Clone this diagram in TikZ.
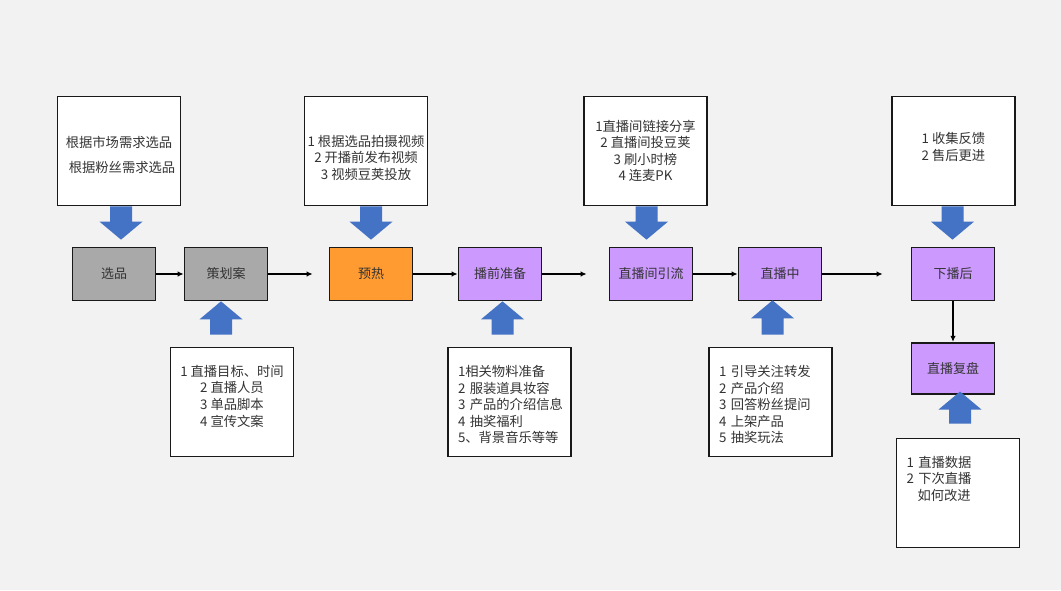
\documentclass[tikz,border=0pt]{standalone}
\usepackage{fontspec}
\setmainfont{Noto Sans CJK SC}
\usetikzlibrary{positioning,arrows.meta,calc}
\definecolor{bgcol}{HTML}{F2F2F2}
\definecolor{boxgray}{HTML}{A9A9A9}
\definecolor{boxorange}{HTML}{FF9B30}
\definecolor{boxpurple}{HTML}{CC99FF}
\definecolor{fatblue}{HTML}{4472C4}
\definecolor{txt}{HTML}{333333}
\tikzset{
 stage/.style={draw=black!90,line width=1.7pt,minimum width=83pt,minimum height=53pt,inner sep=0pt,text=txt,
  font=\fontsize{13pt}{16pt}\selectfont},
 info/.style={draw=black!90,fill=white,line width=1.7pt,minimum width=123pt,minimum height=109pt,inner sep=0pt,text=txt,align=center},
 infol/.style={info,align=left,text width=103pt}
}
%struts to move note text down (\dn) or up (\up)
\newcommand\dn[1]{\rule{0pt}{#1}}
\newcommand\up[1]{\rule[-#1]{0pt}{#1}}
%fat block arrow from base #1 to the level of #2
\newcommand\fatarrow[2]{%
 \coordinate (fa) at #1; \coordinate (ft) at #2;
 \coordinate (fb) at (fa |- ft);
 \coordinate (fh) at ($(fb)!18pt!(fa)$);
 \fill[fatblue] ([xshift=-11pt]fa)--([xshift=11pt]fa)--([xshift=11pt]fh)--([xshift=21.5pt]fh)--(fb)
  --([xshift=-21.5pt]fh)--([xshift=-11pt]fh)--cycle;}
\begin{document}
\begin{tikzpicture}[x=1pt,y=-1pt,font=\fontsize{13.3pt}{16.6pt}\selectfont,
 flow/.style={line width=1.2pt,-{Latex[length=6pt,width=5.5pt]}}]
\useasboundingbox (0,0) rectangle (1061,590);
\fill[bgcol] (0,0) rectangle (1061,590);
%stages
\node[stage,fill=boxgray] (xp) at (114,274) {选品};
\node[stage,fill=boxgray,right=27.3pt of xp] (chj) {策划案};
\node[stage,fill=boxorange,right=60.3pt of chj] (yr) {预热};
\node[stage,fill=boxpurple,right=44.3pt of yr] (bq) {播前准备};
\node[stage,fill=boxpurple,right=66.3pt of bq] (yl) {直播间引流};
\node[stage,fill=boxpurple,right=44.3pt of yl] (zb) {直播中};
\node[stage,fill=boxpurple,right=88.3pt of zb] (xb) {下播后};
\node[stage,fill=boxpurple,below=40.5pt of xb,minimum height=51pt] (fp) {直播复盘};
%flow
\draw[flow] (xp)--(chj);
\draw[flow,shorten >=16pt] (chj)--(yr);
\draw[flow] (yr)--(bq);
\draw[flow,shorten >=22pt] (bq)--(yl);
\draw[flow] (yl)--(zb);
\draw[flow,shorten >=28pt] (zb)--(xb);
\draw[flow] (xb)--(fp);
%notes above
\node[info] (t1) at (119,151) {\dn{19pt}根据市场需求选品\\[8.4pt]\hspace*{6pt}根据粉丝需求选品};
\node[info] (t2) at (366,151) {\dn{25pt}1 根据选品拍摄视频\\2 开播前发布视频\\3 视频豆荚投放};
\node[info] (t3) at (645.5,151) {1直播间链接分享\\2 直播间投豆荚\\3 刷小时榜\\4 连麦PK};
\node[info] (t4) at (953.5,151) {1 收集反馈\\2 售后更进\up{9pt}};
%notes below
\node[info] (b1) at (232,402) {1 直播目标、时间\\2 直播人员\\3 单品脚本\\4 宣传文案\up{13pt}};
\node[infol] (b2) at (509.5,402) {\dn{16.5pt}1相关物料准备\\2 服装道具妆容\\\mbox{3 产品的介绍信息}\\4 抽奖福利\\5、背景音乐等等};
\node[infol] (b3) at (770.5,402) {\dn{16.5pt}1 引导关注转发\\2 产品介绍\\3 回答粉丝提问\\4 上架产品\\5 抽奖玩法};
\node[infol] (b4) at (958,493) {1 直播数据\\2 下次直播\\\hspace*{11pt}如何改进\up{30pt}};
%fat arrows
\fatarrow{([xshift=2pt]t1.south)}{([yshift=7pt]xp.north)}
\fatarrow{([xshift=-11pt,yshift=12pt]b1.north)}{(chj.south)}
\fatarrow{([xshift=5pt]t2.south)}{([yshift=7pt]yr.north)}
\fatarrow{([xshift=-7pt,yshift=12pt]b2.north)}{(bq.south)}
\fatarrow{([xshift=1pt]t3.south)}{([yshift=7pt]yl.north)}
\fatarrow{([xshift=2pt,yshift=12pt]b3.north)}{([yshift=1pt]zb.south)}
\fatarrow{([xshift=-1pt]t4.south)}{([yshift=7pt]xb.north)}
\fatarrow{([xshift=2pt,yshift=14pt]b4.north)}{([yshift=3pt]fp.south)}
\end{tikzpicture}
\end{document}
